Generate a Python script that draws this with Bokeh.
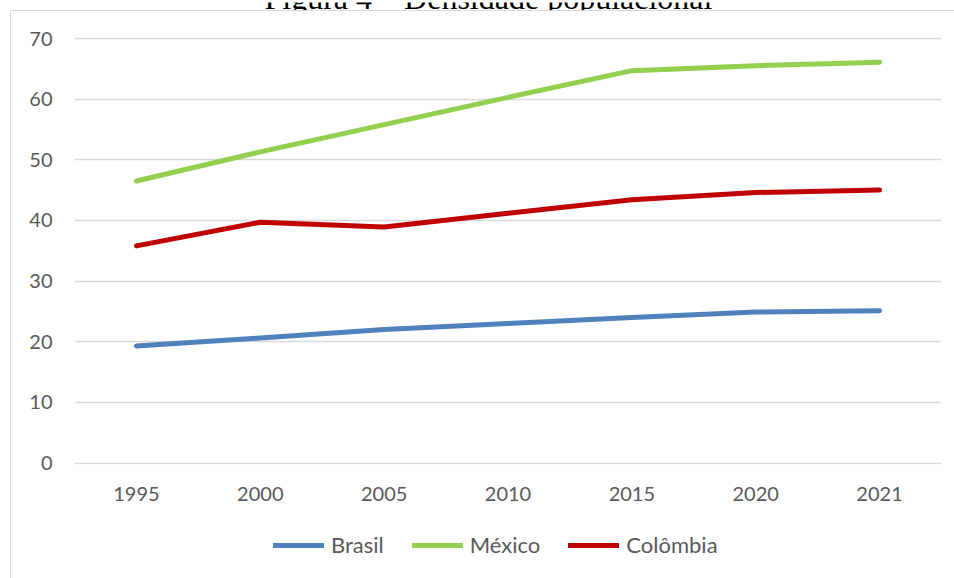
from bokeh.plotting import figure
from bokeh.layouts import column
from bokeh.models import (FactorRange, Range1d, SingleIntervalTicker, Legend,
                          LegendItem, Label)
from bokeh.embed import file_html
from bokeh.resources import INLINE

# Population density (inhabitants per km²)
years = ["1995", "2000", "2005", "2010", "2015", "2020", "2021"]
brasil = [19.3, 20.6, 22.0, 23.0, 24.0, 24.9, 25.1]
mexico = [46.5, 51.3, 55.8, 60.3, 64.7, 65.5, 66.1]
colombia = [35.8, 39.7, 38.9, 41.2, 43.4, 44.6, 45.0]

series = [
    ("Brasil", brasil, "#4f81bd"),
    ("México", mexico, "#92d050"),
    ("Colômbia", colombia, "#c00000"),
]

title_text = "Figura 4 – Densidade populacional"

axis_font = "Lato"
axis_color = "#595959"


def blank(width, height):
    """A figure without axes whose frame fills the whole canvas."""
    f = figure(width=width, height=height, x_range=Range1d(0, 1),
               y_range=Range1d(0, 1), x_axis_location=None,
               y_axis_location=None, min_border=0,
               output_backend="svg", toolbar_location=None)
    f.outline_line_color = None
    f.xgrid.visible = False
    f.ygrid.visible = False
    return f


# caption strip (only its lowest part falls on the page)
cap = blank(954, 10)
cap.add_layout(Label(x=0.5115, y=1.45, text=title_text, text_align="center",
                     text_baseline="alphabetic",
                     text_font="Liberation Serif", text_font_size="32px",
                     text_color="black"))

# main chart
p = figure(
    frame_width=867, frame_height=427,
    x_range=FactorRange(factors=years, range_padding=0),
    y_range=Range1d(-0.247, 70.165),
    output_backend="svg", toolbar_location=None,
    min_border_left=63, min_border_right=13,
    min_border_top=26, min_border_bottom=60,
)
p.outline_line_color = None

for name, vals, color in series:
    p.line(years, vals, line_width=5, line_color=color, line_cap="round",
           line_join="round")

for ax in (p.xaxis, p.yaxis):
    ax.axis_line_color = None
    ax.major_tick_line_color = None
    ax.minor_tick_line_color = None
    ax.major_tick_in = 0
    ax.major_tick_out = 0
    ax.minor_tick_out = 0
    ax.major_label_text_font = axis_font
    ax.major_label_text_font_size = "20px"
    ax.major_label_text_color = axis_color
    ax.major_label_standoff = 22

p.yaxis.ticker = SingleIntervalTicker(interval=10)
p.xgrid.grid_line_color = None
p.ygrid.grid_line_color = "#d9d9d9"
p.ygrid.grid_line_width = 1.3

# legend strip under the chart; its renderers hold a single empty point
leg = blank(943, 60)
items = []
for name, vals, color in series:
    r = leg.line(x=[float("nan")], y=[float("nan")], line_width=5,
                 line_color=color, line_cap="round")
    items.append(LegendItem(label=name, renderers=[r]))

lg = Legend(items=items, orientation="horizontal", location=(199, 26))
lg.border_line_color = None
lg.background_fill_alpha = 0
lg.padding = 0
lg.margin = 0
lg.spacing = 28
lg.glyph_width = 51
lg.glyph_height = 20
lg.label_height = 20
lg.label_standoff = 7
lg.label_text_font = axis_font
lg.label_text_font_size = "22px"
lg.label_text_color = axis_color
leg.add_layout(lg)

# chart area with a thin grey edge on its top and left
body = column(p, leg, spacing=0, margin=(0, 0, 0, 10),
              styles={"border-top": "1px solid #d9d9d9",
                      "border-left": "1px solid #d9d9d9"})

page = column(cap, body, spacing=0)

open("out.html", "w").write(file_html(page, INLINE))
